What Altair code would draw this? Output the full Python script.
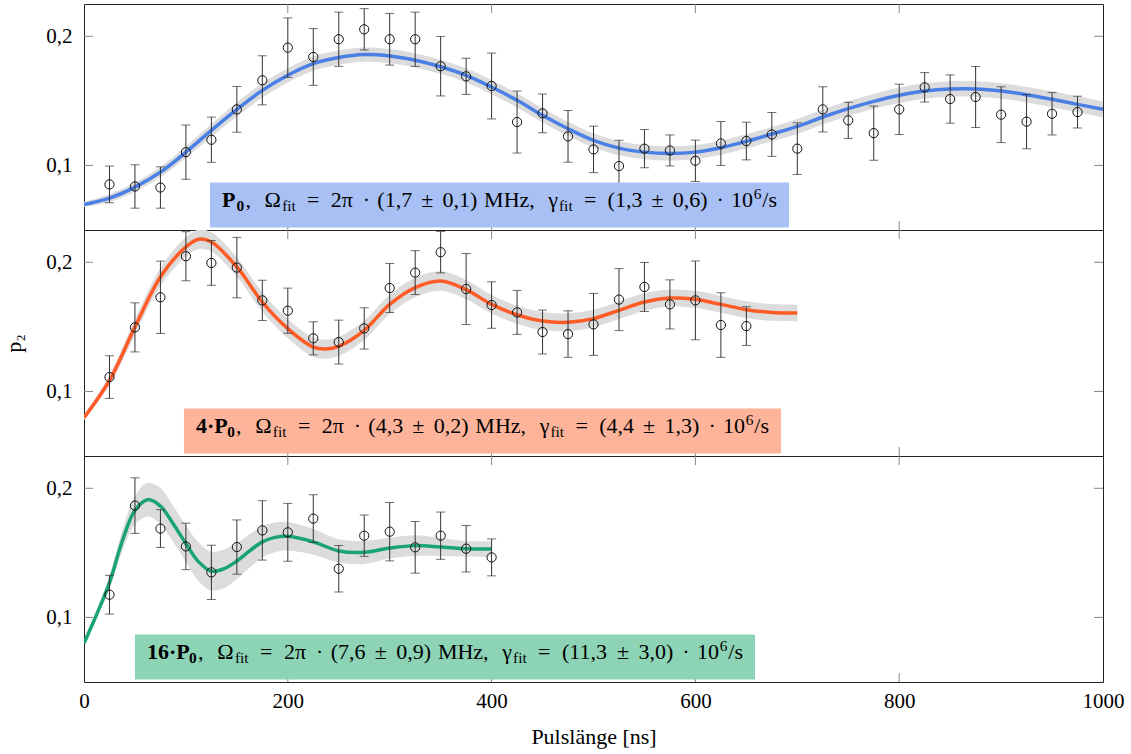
import altair as alt
import pandas as pd

# ---------------- data ----------------
# Panel 1: P0
t1 = [25, 50, 75, 100, 125, 150, 175, 200, 225, 250, 275, 300, 325, 350, 375, 400,
      425, 450, 475, 500, 525, 550, 575, 600, 625, 650, 675, 700, 725, 750, 775, 800,
      825, 850, 875, 900, 925, 950, 975]
p1 = [0.0853, 0.0837, 0.0829, 0.1103, 0.1199, 0.1434, 0.1659, 0.1912, 0.1840, 0.1977,
      0.2054, 0.1977, 0.1977, 0.1768, 0.1690, 0.1615, 0.1336, 0.1403, 0.1225, 0.1124,
      0.0995, 0.1130, 0.1116, 0.1036, 0.1170, 0.1189, 0.1240, 0.1130, 0.1434, 0.1349,
      0.1250, 0.1434, 0.1605, 0.1514, 0.1530, 0.1393, 0.1339, 0.1400, 0.1413]
e1 = [0.0142, 0.0168, 0.0160, 0.0210, 0.0175, 0.0177, 0.0190, 0.0230, 0.0220, 0.0210,
      0.0160, 0.0200, 0.0210, 0.0230, 0.0140, 0.0255, 0.0240, 0.0150, 0.0200, 0.0180,
      0.0200, 0.0148, 0.0120, 0.0160, 0.0170, 0.0146, 0.0170, 0.0200, 0.0175, 0.0140,
      0.0210, 0.0195, 0.0114, 0.0187, 0.0236, 0.0216, 0.0210, 0.0164, 0.0123]
ft1 = [0, 25, 50, 75, 100, 125, 150, 175, 200, 225, 250, 275, 300, 325, 350, 375, 400,
       425, 450, 475, 500, 525, 550, 575, 600, 625, 650, 675, 700, 725, 750, 775, 800,
       825, 850, 875, 900, 925, 950, 975, 1000]
fv1 = [0.0698, 0.0747, 0.0832, 0.0948, 0.1103, 0.1271, 0.1434, 0.1581, 0.1698, 0.1788,
       0.1835, 0.1858, 0.1847, 0.1814, 0.1764, 0.1698, 0.1607, 0.1504, 0.1388, 0.1284,
       0.1194, 0.1134, 0.1103, 0.1093, 0.1103, 0.1137, 0.1186, 0.1243, 0.1302, 0.1375,
       0.1440, 0.1496, 0.1543, 0.1576, 0.1592, 0.1592, 0.1576, 0.1548, 0.1512, 0.1473,
       0.1434]
fb1 = [0.0020, 0.0030, 0.0035, 0.0040, 0.0045, 0.0050, 0.0055, 0.0055, 0.0055, 0.0055,
       0.0055, 0.0055, 0.0055, 0.0055, 0.0055, 0.0055, 0.0055, 0.0055, 0.0055, 0.0055,
       0.0055, 0.0055, 0.0055, 0.0055, 0.0055, 0.0055, 0.0055, 0.0055, 0.0058, 0.0058,
       0.0058, 0.0058, 0.0060, 0.0060, 0.0060, 0.0060, 0.0060, 0.0060, 0.0062, 0.0062,
       0.0062]

# Panel 2: 4*P0
t2 = [25, 50, 75, 100, 125, 150, 175, 200, 225, 250, 275, 300, 325, 350, 375, 400,
      425, 450, 475, 500, 525, 550, 575, 600, 625, 650]
p2 = [0.1111, 0.1496, 0.1729, 0.2047, 0.1995, 0.1959, 0.1705, 0.1625, 0.1411, 0.1382,
      0.1488, 0.1801, 0.1920, 0.2078, 0.1793, 0.1669, 0.1612, 0.1460, 0.1444, 0.1519,
      0.1711, 0.1809, 0.1674, 0.1705, 0.1514, 0.1506]
e2 = [0.0165, 0.0190, 0.0280, 0.0190, 0.0173, 0.0234, 0.0156, 0.0175, 0.0128, 0.0170,
      0.0160, 0.0190, 0.0170, 0.0160, 0.0275, 0.0180, 0.0170, 0.0170, 0.0180, 0.0240,
      0.0240, 0.0190, 0.0190, 0.0305, 0.0250, 0.0150]
ft2 = [0, 25, 50, 75, 100, 112.5, 125, 150, 175, 200, 225, 237.5, 250, 275, 300, 325,
       350, 375, 400, 425, 450, 475, 500, 525, 550, 575, 600, 625, 650, 675, 700]
fv2 = [0.0796, 0.1085, 0.1499, 0.1886, 0.2119, 0.2178, 0.2157, 0.1964, 0.1692, 0.1486,
       0.1343, 0.1328, 0.1349, 0.1473, 0.1674, 0.1804, 0.1855, 0.1788, 0.1674, 0.1594,
       0.1545, 0.1535, 0.1564, 0.1628, 0.1692, 0.1723, 0.1713, 0.1674, 0.1633, 0.1612,
       0.1607]
fb2 = [0.0020, 0.0040, 0.0060, 0.0070, 0.0075, 0.0075, 0.0075, 0.0075, 0.0075, 0.0075,
       0.0075, 0.0075, 0.0075, 0.0075, 0.0075, 0.0075, 0.0075, 0.0075, 0.0072, 0.0070,
       0.0070, 0.0070, 0.0068, 0.0068, 0.0068, 0.0066, 0.0066, 0.0065, 0.0065, 0.0065,
       0.0065]

# Panel 3: 16*P0
t3 = [25, 50, 75, 100, 125, 150, 175, 200, 225, 250, 275, 300, 325, 350, 375, 400]
p3 = [0.1176, 0.1866, 0.1688, 0.1550, 0.1349, 0.1545, 0.1674, 0.1659, 0.1765, 0.1377,
      0.1633, 0.1664, 0.1543, 0.1633, 0.1532, 0.1465]
e3 = [0.0150, 0.0215, 0.0146, 0.0180, 0.0210, 0.0210, 0.0230, 0.0224, 0.0185, 0.0180,
      0.0160, 0.0226, 0.0200, 0.0183, 0.0180, 0.0143]
ft3 = [0, 12.5, 25, 37.5, 50, 62.5, 75, 87.5, 100, 112.5, 125, 137.5, 150, 162.5, 175,
       187.5, 200, 225, 250, 275, 300, 325, 350, 375, 400]
fv3 = [0.0800, 0.1025, 0.1270, 0.1590, 0.1830, 0.1912, 0.1862, 0.1725, 0.1571, 0.1430,
       0.1358, 0.1378, 0.1437, 0.1515, 0.1585, 0.1620, 0.1628, 0.1585, 0.1515, 0.1504,
       0.1537, 0.1556, 0.1545, 0.1532, 0.1530]
fb3 = [0.0010, 0.0030, 0.0050, 0.0080, 0.0110, 0.0130, 0.0140, 0.0140, 0.0140, 0.0150,
       0.0150, 0.0150, 0.0140, 0.0130, 0.0120, 0.0115, 0.0110, 0.0100, 0.0090, 0.0090,
       0.0080, 0.0080, 0.0070, 0.0060, 0.0060]

# label texts
prefixes = ["P", "4·P", "16·P"]
omegas = [("1,7", "0,1"), ("4,3", "0,2"), ("7,6", "0,9")]
gammas = [("1,3", "0,6"), ("4,4", "1,3"), ("11,3", "3,0")]
box_x = [(123.6, 691.9), (98.1, 684.0), (50.0, 658.5)]
box_y = (0.052, 0.0868)
text_y = 0.068

line_colors = ["#4a7fe6", "#fe5b26", "#1aa472"]
box_colors = ["#a9c0f4", "#fdb49a", "#8dd4b6"]

xticks = [200, 400, 600, 800]
yticks = [0.1, 0.2]
xlabels = [0, 200, 400, 600, 800, 1000]

# ---------------- layout constants ----------------
W, H = 1019, 226
XDOM = [0, 1000]
YDOM = [0.05, 0.225]
PX = W / (XDOM[1] - XDOM[0])
FONT = "Liberation Serif, Times New Roman, serif"
S = 22  # label font size

REG = {' ': 250, ',': 250, '.': 250, '(': 333, ')': 333, '=': 564, '±': 564, '·': 250,
       '/': 278, 'M': 889, 'H': 722, 'z': 444, 's': 389, 'f': 333, 'i': 278, 't': 278,
       'Ω': 768, 'γ': 450, 'π': 550, 'P': 556}
BOLD = {'P': 611, '·': 250}


def tw(s, bold):
    tot = 0
    for c in s:
        if c.isdigit():
            tot += 500
        elif bold:
            tot += BOLD.get(c, REG.get(c, 500))
        else:
            tot += REG.get(c, 500)
    return tot / 1000.0


def tokens(i):
    om, ome = omegas[i]
    ga, gae = gammas[i]
    return [(prefixes[i], "b", 0), ("0", "bsub", 0.03), (",", "r", 0.03),
            ("Ω", "r", .333), ("fit", "sub", 0.02), ("=", "r", .278), ("2π", "r", .278),
            ("·", "r", .222), ("(" + om, "r", .222), ("±", "r", .222),
            (ome + ")", "r", .222), ("MHz,", "r", .167), ("γ", "r", .333),
            ("fit", "sub", 0.02), ("=", "r", .278), ("(" + ga, "r", .278), ("±", "r", .222),
            (gae + ")", "r", .222), ("·", "r", .222), ("10", "r", .222),
            ("6", "sup", 0.02), ("/s", "r", 0.02)]


def layout_label(i):
    toks = tokens(i)
    x0, x1 = box_x[i]
    target = (x1 - x0) * PX - 24
    nat = 0
    gaps = 0
    for txt, st, g in toks:
        scale = 0.7 if st in ("sub", "bsub", "sup") else 1.0
        nat += tw(txt, st in ("b", "bsub")) * S * scale
        gaps += g * S
    k = (target - nat) / gaps
    rows = []
    pos = 12.0
    for txt, st, g in toks:
        pos += g * S * k
        rows.append({"x": x0 + pos / PX, "y": text_y, "text": txt, "style": st})
        scale = 0.7 if st in ("sub", "bsub", "sup") else 1.0
        pos += tw(txt, st in ("b", "bsub")) * S * scale
    return pd.DataFrame(rows)


def panel(i, t, p, e, ft, fv, fb, bottom=False):
    pts = pd.DataFrame({"t": t, "p": p, "e": e})
    pts["lo"] = pts["p"] - pts["e"]
    pts["hi"] = pts["p"] + pts["e"]
    fit = pd.DataFrame({"t": ft, "v": fv, "b": fb})
    fit["lo"] = fit["v"] - fit["b"]
    fit["hi"] = fit["v"] + fit["b"]

    if bottom:
        xaxis = alt.Axis(values=xlabels, format="d", ticks=False, tickSize=0, domain=False,
                         grid=False, labelFont=FONT, labelFontSize=21, labelPadding=8,
                         labelFlush=False, labelColor="#000", title="Pulslänge [ns]",
                         titleFont=FONT, titleFontSize=22, titleFontWeight="normal",
                         titlePadding=15, titleColor="#000")
    else:
        xaxis = None
    yaxis = alt.Axis(values=yticks, ticks=False, tickSize=0, domain=False, grid=False,
                     labelExpr="replace(format(datum.value, '.1f'), '.', ',')",
                     labelFont=FONT, labelFontSize=21, labelPadding=12, labelColor="#000",
                     title="p₂" if i == 1 else None, titleFont=FONT, titleFontSize=22,
                     titleFontWeight="normal", titlePadding=20, titleColor="#000")
    xs = alt.Scale(domain=XDOM, nice=False, zero=False)
    ys = alt.Scale(domain=YDOM, nice=False, zero=False)

    interp = "catmull-rom"
    band = alt.Chart(fit).mark_area(color="#dcdcdc", interpolate=interp, clip=True).encode(
        x=alt.X("t:Q", scale=xs, axis=xaxis), y=alt.Y("lo:Q", scale=ys, axis=yaxis), y2="hi:Q")
    line = alt.Chart(fit).mark_line(color=line_colors[i], strokeWidth=3.5,
                                    interpolate=interp, clip=True).encode(
        x="t:Q", y="v:Q")
    bars = alt.Chart(pts).mark_rule(color="#333", strokeWidth=1, clip=True).encode(
        x="t:Q", y="lo:Q", y2="hi:Q")
    cap_lo = alt.Chart(pts).mark_tick(orient="horizontal", size=9, thickness=1,
                                      color="#333", clip=True).encode(x="t:Q", y="lo:Q")
    cap_hi = alt.Chart(pts).mark_tick(orient="horizontal", size=9, thickness=1,
                                      color="#333", clip=True).encode(x="t:Q", y="hi:Q")
    dots = alt.Chart(pts).mark_point(shape="circle", filled=False, size=85, color="#111",
                                     strokeWidth=1, opacity=1, clip=True).encode(
        x="t:Q", y="p:Q")

    box = alt.Chart(pd.DataFrame({"x0": [box_x[i][0]], "x1": [box_x[i][1]],
                                  "y0": [box_y[0]], "y1": [box_y[1]]})).mark_rect(
        color=box_colors[i]).encode(x="x0:Q", x2="x1:Q", y="y0:Q", y2="y1:Q")

    lab = layout_label(i)
    styles = {"r": dict(fontSize=S, fontWeight="normal", dy=0),
              "b": dict(fontSize=S, fontWeight="bold", dy=0),
              "sub": dict(fontSize=S * 0.7, fontWeight="normal", dy=4),
              "bsub": dict(fontSize=S * 0.7, fontWeight="bold", dy=4),
              "sup": dict(fontSize=S * 0.7, fontWeight="normal", dy=-8)}
    texts = []
    for st, kw in styles.items():
        d = lab[lab["style"] == st]
        if len(d) == 0:
            continue
        texts.append(alt.Chart(d).mark_text(align="left", baseline="alphabetic",
                                            color="#000", font=FONT, **kw).encode(
            x="x:Q", y="y:Q", text="text:N"))

    tick_c = "#888"
    xt = pd.DataFrame({"v": xticks})
    yt = pd.DataFrame({"v": yticks})
    ticks = [
        alt.Chart(xt).mark_rule(color=tick_c, strokeWidth=1).encode(
            x="v:Q", y=alt.value(0), y2=alt.value(9)),
        alt.Chart(xt).mark_rule(color=tick_c, strokeWidth=1).encode(
            x="v:Q", y=alt.value(H), y2=alt.value(H - 9)),
        alt.Chart(yt).mark_rule(color=tick_c, strokeWidth=1).encode(
            y="v:Q", x=alt.value(0), x2=alt.value(9)),
        alt.Chart(yt).mark_rule(color=tick_c, strokeWidth=1).encode(
            y="v:Q", x=alt.value(W), x2=alt.value(W - 9)),
    ]

    return alt.layer(band, *ticks, line, bars, cap_lo, cap_hi, dots, box, *texts).properties(
        width=W, height=H)


c1 = panel(0, t1, p1, e1, ft1, fv1, fb1)
c2 = panel(1, t2, p2, e2, ft2, fv2, fb2)
c3 = panel(2, t3, p3, e3, ft3, fv3, fb3, bottom=True)

chart = alt.vconcat(c1, c2, c3, spacing=0, bounds="flush").properties(
    padding={"left": 2, "top": 3, "right": 5, "bottom": 5},
    background="white",
).configure(font=FONT).configure_view(stroke="#222", strokeWidth=1)

chart.save("out.html", embed_options={"renderer": "svg", "actions": False})
